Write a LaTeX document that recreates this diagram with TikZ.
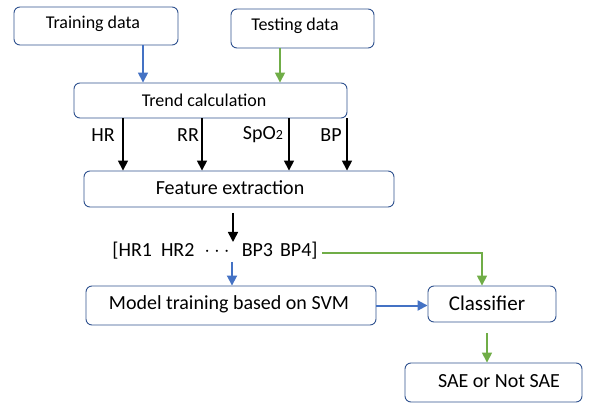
\documentclass[tikz,border=0pt]{standalone}
\usepackage{fontspec}
\setmainfont{Carlito}
\usetikzlibrary{arrows.meta}
\definecolor{boxc}{HTML}{2F528F}
\definecolor{bluec}{HTML}{4472C4}
\definecolor{greenc}{HTML}{70AD47}
\tikzset{
  box/.style={draw=boxc, line width=0.9pt, rounded corners=6pt, inner sep=0pt, font=\fontsize{18}{20}\selectfont},
  lbl/.style={inner sep=0pt, font=\fontsize{18}{20}\selectfont},
  big/.style={font=\fontsize{20}{22}\selectfont},
  arr/.style={line width=1.6pt, -{Triangle[length=10pt,width=10pt]}},
  barr/.style={arr, draw=black},
  blarr/.style={arr, draw=bluec},
  grarr/.style={arr, draw=greenc},
}
\begin{document}
\begin{tikzpicture}[x=1pt,y=-1pt]
\useasboundingbox (0,0) rectangle (592,406);
% boxes
\node[box, minimum width=164pt, minimum height=38pt] (train) at (96,26) {};
\node[lbl] at (93,24) {Training data};
\node[box, minimum width=143pt, minimum height=39pt] (test) at (302.5,28.5) {};
\node[lbl] at (295,26) {Testing data};
\node[box, minimum width=273pt, minimum height=35pt] (trend) at (210.5,100.5) {};
\node[lbl] at (204,100) {Trend calculation};
\node[box, minimum width=310pt, minimum height=36pt] (feat) at (239,189) {};
\node[lbl, big] at (230,188) {Feature extraction};
\node[lbl, big] (vec) at (215,251) {[HR1\hspace{9pt}HR2\hspace{10pt}$\cdot$\hspace{4pt}$\cdot$\hspace{4pt}$\cdot$\hspace{12pt}BP3\hspace{7pt}BP4]};
\node[box, minimum width=290pt, minimum height=39pt] (model) at (231,305.5) {};
\node[lbl, big] at (229,304) {Model training based on SVM};
\node[box, minimum width=128pt, minimum height=36pt] (cls) at (492,304) {};
\node[lbl, font=\fontsize{21}{23}\selectfont] at (487,303) {Classifier};
\node[box, minimum width=177pt, minimum height=39pt] (sae) at (493.5,382.5) {};
\node[lbl, big] at (499,381) {SAE or Not SAE};
% labels
\node[lbl, big] (lhr) at (103,135) {HR};
\node[lbl, big] (lrr) at (188,135) {RR};
\node[lbl, big] (lsp) at (263,135) {SpO{\fontsize{14}{15}\selectfont 2}};
\node[lbl, big] (lbp) at (331,135) {BP};
% arrows
\draw[blarr] (train.south -| 143,0) -- (trend.north -| 143,0);
\draw[grarr] (test.south -| 280,0) -- (trend.north -| 280,0);
\foreach \xx in {123,202,289,347} {
  \draw[barr] (trend.south -| \xx,0) -- (feat.north -| \xx,0);
}
\coordinate (f1) at (233,213);
\coordinate (f2) at (233,242);
\draw[barr] (f1) -- (f2);
\coordinate (v1) at (232,262);
\draw[blarr, line width=1.8pt] (v1) -- (model.north -| 232,0);
\draw[blarr, line width=2pt] (model.east) -- (cls.west |- model.east);
\coordinate (g0) at (322,253);
\draw[grarr] (g0) -| (cls.north -| 482,0);
\coordinate (c1) at (487,333);
\draw[grarr] (c1) -- (sae.north -| 487,0);
\end{tikzpicture}
\end{document}
